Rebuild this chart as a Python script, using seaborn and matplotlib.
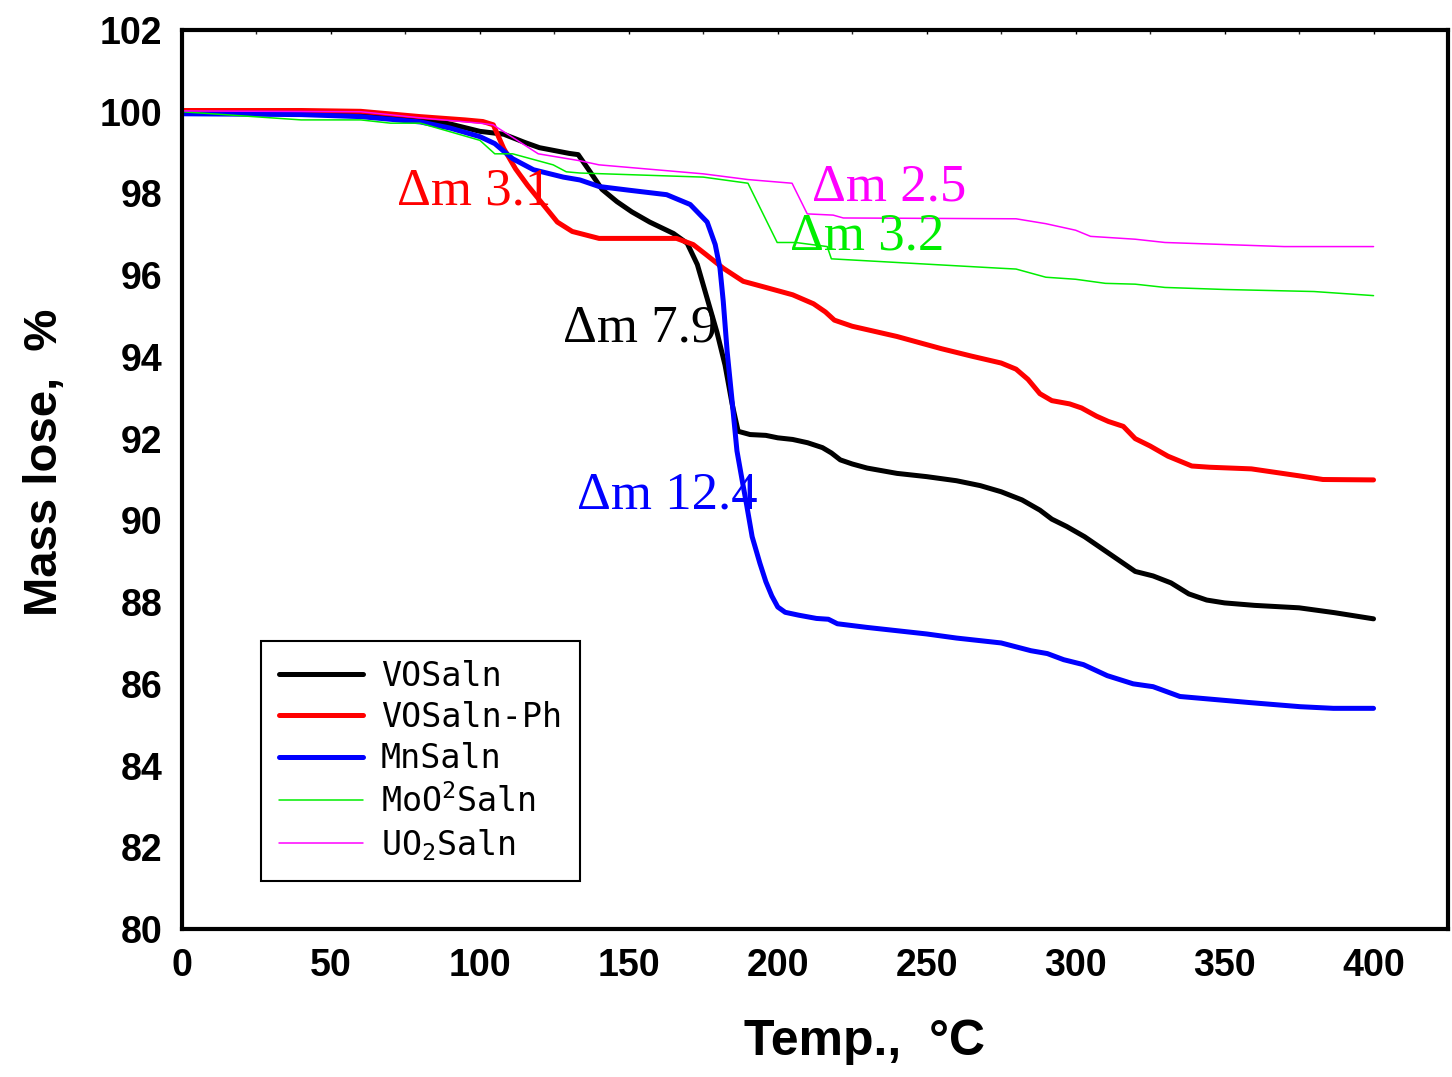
import matplotlib
matplotlib.use("Agg")
import matplotlib.pyplot as plt
from matplotlib.ticker import MultipleLocator
import seaborn as sns
import pandas as pd

# ---------------- data ----------------
vosaln_x = [0, 30, 60, 80, 90, 100, 108, 115, 120, 125, 130, 133, 137, 141, 146, 151, 157, 165,
            169.6, 173, 176.3, 179.6, 182.3, 184.7, 186.7, 190.7, 196, 200, 205, 210, 215, 218,
            221, 225, 230, 240, 250, 260, 268, 275, 282, 288, 292, 297, 303, 308, 312, 316, 320,
            326, 332, 338, 344, 350, 360, 375, 387, 400]
vosaln_y = [100.0, 100.0, 99.98, 99.85, 99.7, 99.52, 99.45, 99.25, 99.12, 99.05, 98.98, 98.95, 98.53,
            98.1, 97.8, 97.55, 97.3, 97.02, 96.78, 96.26, 95.43, 94.6, 93.8, 92.84, 92.18, 92.1,
            92.08, 92.02, 91.98, 91.9, 91.78, 91.65, 91.48, 91.38, 91.28, 91.15, 91.07, 90.97,
            90.85, 90.7, 90.5, 90.25, 90.03, 89.85, 89.6, 89.35, 89.15, 88.95, 88.75, 88.64, 88.47,
            88.2, 88.05, 87.98, 87.92, 87.86, 87.74, 87.59]

vosalnph_x = [0, 40, 60, 80, 95, 101, 104.5, 108, 112, 116, 121, 126, 131, 140, 150, 166, 171.6,
              176, 181.7, 188.4, 196, 205, 212, 216, 219, 225, 240, 255, 265, 275, 280, 284, 288,
              292, 298, 302, 307, 311, 316, 320, 325, 331, 339, 345, 359, 375, 383, 400]
vosalnph_y = [100.03, 100.03, 100.01, 99.88, 99.8, 99.76, 99.68, 99.1, 98.6, 98.2, 97.75, 97.3, 97.07,
              96.9, 96.9, 96.9, 96.75, 96.5, 96.17, 95.85, 95.7, 95.52, 95.3, 95.1, 94.9, 94.75,
              94.5, 94.2, 94.02, 93.85, 93.7, 93.45, 93.1, 92.93, 92.85, 92.75, 92.55, 92.42, 92.3,
              92.0, 91.82, 91.57, 91.33, 91.3, 91.26, 91.09, 91.0, 90.99]

mnsaln_x = [0, 40, 60, 80, 90, 100, 105, 111, 118, 128, 133.6, 140, 150, 162.7, 170.6, 176.3, 179,
            180.6, 181.7, 183, 184.7, 186.3, 188, 189.5, 191.4, 194, 196, 198, 200, 202.5, 207,
            213, 217, 220, 230, 240, 250, 260, 275, 285, 290.5, 296, 302.6, 310.6, 319.3, 326,
            335, 358.6, 375.4, 386.5, 400]
mnsaln_y = [99.95, 99.93, 99.88, 99.75, 99.6, 99.39, 99.22, 98.85, 98.58, 98.4, 98.33, 98.17, 98.08,
            97.97, 97.73, 97.3, 96.75, 96.17, 95.36, 94.14, 92.9, 91.7, 91.0, 90.4, 89.6, 88.95,
            88.5, 88.15, 87.88, 87.75, 87.68, 87.6, 87.58, 87.47, 87.38, 87.3, 87.22, 87.12, 87.0,
            86.81, 86.74, 86.59, 86.47, 86.2, 86.0, 85.93, 85.69, 85.54, 85.44, 85.4, 85.4]

moo2_x = [0, 40, 60, 70, 80, 100, 105, 111, 124.6, 129, 133.6, 175, 190, 199.8, 206, 216.6, 218,
          274.7, 280, 290, 300, 310, 320, 330, 350, 380, 400]
moo2_y = [100.0, 99.8, 99.8, 99.72, 99.72, 99.3, 98.97, 98.97, 98.7, 98.53, 98.5, 98.4, 98.25, 96.8,
          96.8, 96.7, 96.4, 96.17, 96.15, 95.95, 95.9, 95.8, 95.78, 95.7, 95.65, 95.6, 95.5]

uo2_x = [0, 60, 80, 100, 104.4, 119.6, 133.6, 140, 175, 190, 204.8, 209.9, 218.6, 222, 280, 290,
         300, 305, 320, 330, 350, 370, 400]
uo2_y = [100.02, 100.0, 99.85, 99.72, 99.68, 98.97, 98.8, 98.7, 98.48, 98.34, 98.25, 97.5, 97.47,
         97.4, 97.38, 97.26, 97.1, 96.95, 96.88, 96.8, 96.75, 96.7, 96.7]

series_names = ["VOSaln", "VOSaln-Ph", "MnSaln", "MoO$^2$Saln", "UO$_2$Saln"]
series_x = [vosaln_x, vosalnph_x, mnsaln_x, moo2_x, uo2_x]
series_y = [vosaln_y, vosalnph_y, mnsaln_y, moo2_y, uo2_y]
series_colors = ["#000000", "#ff0000", "#0000ff", "#00ee00", "#ff00ff"]
series_widths = [3.6, 3.6, 3.6, 1.1, 1.1]

ann_texts = ["Δm 3.1", "Δm 2.5", "Δm 3.2", "Δm 7.9", "Δm 12.4"]
ann_x = [72.2, 211.5, 204.0, 128.0, 132.6]
ann_y = [98.04, 98.14, 96.95, 94.7, 90.6]
ann_colors = ["#ff0000", "#ff00ff", "#00ee00", "#000000", "#0000ff"]

x_ticks = [0, 50, 100, 150, 200, 250, 300, 350, 400]
y_ticks = [80, 82, 84, 86, 88, 90, 92, 94, 96, 98, 100, 102]

# ---------------- plot ----------------
sns.set_theme(style="white")
plt.rcParams["font.family"] = ["Liberation Sans", "DejaVu Sans"]
plt.rcParams["mathtext.default"] = "regular"
plt.rcParams["text.color"] = "black"
plt.rcParams["axes.labelcolor"] = "black"

fig = plt.figure(figsize=(14.52, 10.77), dpi=100)
ax = fig.add_axes([182 / 1452, 1 - 929 / 1077, (1448 - 182) / 1452, (929 - 30) / 1077])

for name, xs, ys, c, lw in zip(series_names, series_x, series_y, series_colors, series_widths):
    df = pd.DataFrame({"x": xs, "y": ys})
    sns.lineplot(data=df, x="x", y="y", ax=ax, color=c, linewidth=lw, label=name,
                 estimator=None, sort=False)

for t, x, y, c in zip(ann_texts, ann_x, ann_y, ann_colors):
    ax.text(x, y, t, color=c, fontsize=38, family=["Liberation Serif", "DejaVu Serif"],
            va="center", ha="left")

ax.set_xlim(0, 425)
ax.set_ylim(80, 102)
ax.set_xticks(x_ticks)
ax.set_yticks(y_ticks)
ax.xaxis.set_minor_locator(MultipleLocator(25))
ax.yaxis.set_minor_locator(MultipleLocator(1))

for s in ax.spines.values():
    s.set_linewidth(3)
    s.set_color("black")

ax.tick_params(axis="both", which="major", direction="in", length=12, width=2.5,
               labelsize=27, pad=14, colors="black")
ax.tick_params(axis="both", which="minor", direction="in", length=6, width=2.2)
ax.tick_params(axis="x", which="both", top=True)
for lbl in ax.get_xticklabels() + ax.get_yticklabels():
    lbl.set_fontweight("bold")
for tk in ax.xaxis.get_major_ticks() + ax.xaxis.get_minor_ticks():
    tk.tick2line.set_markersize(3)
    tk.tick2line.set_markeredgewidth(1)

ax.set_xlabel("Temp.,  °C", fontsize=36, fontweight="bold", labelpad=22, color="black")
ax.xaxis.set_label_coords((865 - 182) / 1266, -0.1)
ax.set_ylabel("Mass lose,  %", fontsize=34, fontweight="bold", labelpad=26, color="black")
ax.yaxis.set_label_coords(-0.091, 0.519)

leg = ax.legend(loc="lower left", bbox_to_anchor=(0.0624, 0.0534), frameon=True, fancybox=False,
                shadow=False, prop={"family": "DejaVu Sans Mono", "size": 24},
                handlelength=2.5, handletextpad=0.55, labelspacing=0.25, borderpad=0.55,
                borderaxespad=0)
leg.get_frame().set_edgecolor("black")
leg.get_frame().set_linewidth(1.5)
leg.get_frame().set_alpha(1)
for h, lw in zip(leg.get_lines(), series_widths):
    h.set_linewidth(lw)
for txt in leg.get_texts():
    txt.set_color("black")

fig.savefig("out.png", dpi=100)
